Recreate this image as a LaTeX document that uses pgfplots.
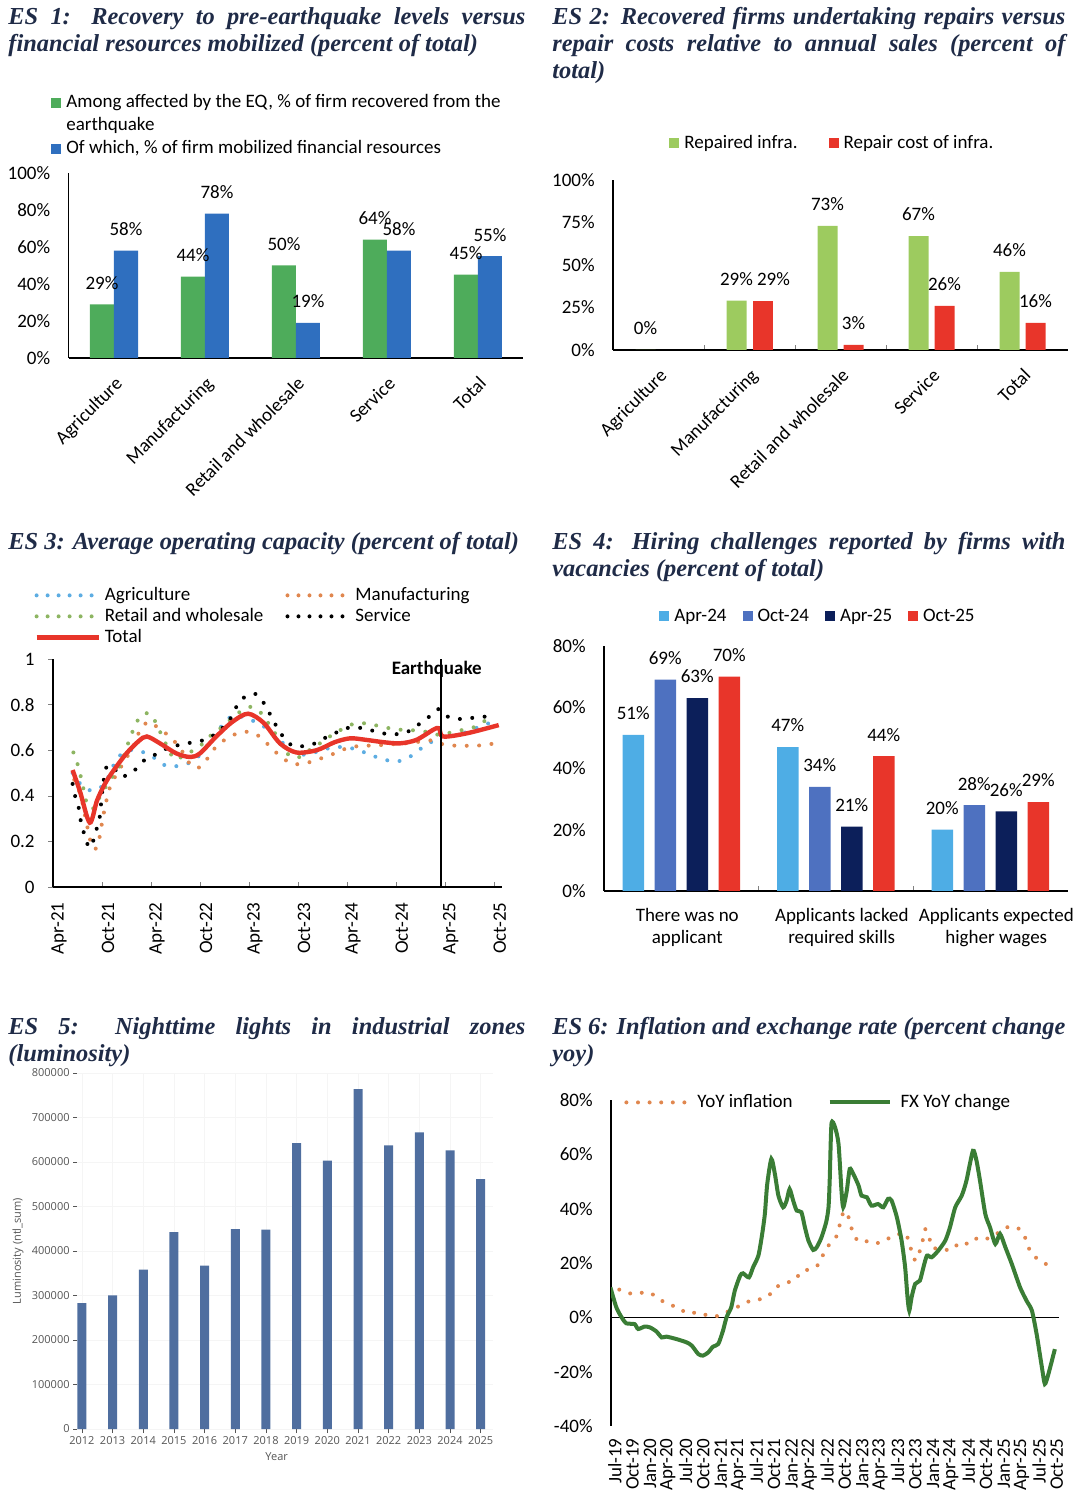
\documentclass[border=0pt]{standalone}
\usepackage{fontspec}
\setmainfont{Carlito}
\newfontfamily\titlefont{Liberation Serif}
\newfontfamily\smallsans{Open Sans}
\usepackage{pgfplots}
\pgfplotsset{compat=1.18}

\definecolor{titlenavy}{HTML}{1F2B47}
\definecolor{grA}{HTML}{4EAC5B}
\definecolor{blA}{HTML}{2F6FBF}
\definecolor{grB}{HTML}{9DCB5F}
\definecolor{rdB}{HTML}{E8352A}
\definecolor{agri}{HTML}{5DADE2}
\definecolor{manu}{HTML}{E0874F}
\definecolor{reta}{HTML}{8DB562}
\definecolor{q1}{HTML}{4EADE5}
\definecolor{q2}{HTML}{4E71C0}
\definecolor{q3}{HTML}{0C1F5A}
\definecolor{lumi}{HTML}{4F6E9F}
\definecolor{fxgreen}{HTML}{3A7D35}
\definecolor{lumitext}{HTML}{555555}

\newcommand\body{\fontsize{9.5}{11}\selectfont}
\newcommand\ttl{\titlefont\bfseries\itshape\fontsize{12.2}{13.5}\selectfont\color{titlenavy}}
\newcommand\lumifont{\smallsans\fontsize{5.5}{6.5}\selectfont\color{lumitext}}

\tikzset{ttlnode/.style={anchor=base west, text width=#1, align=justify, inner sep=0pt, font=\ttl}}

\pgfplotsset{
  panel/.style={scale only axis, anchor=south west, font=\body,
    /pgf/number format/assume math mode=true,
    axis lines=left, axis line style={-, line width=0.6pt},
    tick label style={font=\body},
    legend style={font=\body, draw=none, fill=none, inner sep=0pt,
      nodes={inner sep=0.5pt, text height=7.25pt, text depth=2.25pt}},
    legend cell align=left},
  barpanel/.style={panel, clip=false, ymin=0, major tick length=0pt,
    tick align=inside,
    yticklabel={\pgfmathprintnumber{\tick}\%},
    yticklabel style={inner xsep=0pt, xshift=-9pt},
    legend image code/.code={\fill[##1] (0pt,-2.5pt) rectangle (5pt,2.5pt);},
    legend style={/tikz/every odd column/.append style={column sep=2pt}},
    every node near coord/.append style={font=\body, yshift=4pt}},
  rotlabels/.style={xticklabel style={rotate=45, anchor=north east, inner sep=6pt}},
  pct/.style={nodes near coords={\pgfmathprintnumber{\pgfplotspointmeta}\%},
    every node near coord/.append style={xshift=#1}},
  dotline/.style={line width=2pt, line cap=round, dash pattern=on 0pt off 6.2pt,
    legend image post style={dash pattern=on 0pt off 5.5pt}},
}

\begin{document}
\begin{tikzpicture}
\useasboundingbox (0,0) rectangle (542pt,751pt);

% ---------------- titles
\node[ttlnode=258.5pt] at (4pt,738.5pt)
  {ES 1: Recovery to pre-earthquake levels versus\linebreak financial resources mobilized (percent of total)};
\node[ttlnode=256.5pt] at (276pt,738.5pt)
  {ES 2: Recovered firms undertaking repairs versus\linebreak repair costs relative to annual sales (percent of\linebreak total)};
\node[anchor=base west, inner sep=0pt, font=\ttl] at (4pt,476pt)
  {ES 3: Average operating capacity (percent of total)};
\node[ttlnode=256.5pt] at (276pt,476pt)
  {ES 4: Hiring challenges reported by firms with\linebreak vacancies (percent of total)};
\node[ttlnode=258.5pt] at (4pt,233.5pt)
  {ES 5: Nighttime lights in industrial zones\linebreak (luminosity)};
\node[ttlnode=256.5pt] at (276pt,233.5pt)
  {ES 6: Inflation and exchange rate (percent change\linebreak yoy)};

% ---------------- ES 1
\begin{axis}[barpanel, rotlabels, at={(34.25pt,572pt)}, width=227.5pt, height=92.5pt,
  xmin=-0.5, xmax=4.5, ymax=100, ytick={0,20,...,100},
  xtick={0,...,4}, xticklabels={Agriculture,Manufacturing,Retail and wholesale,Service,Total},
  legend style={at={(axis description cs:-0.0385,1.4405)}, anchor=north west,
    nodes={text height=7.5pt, text depth=3pt}}]
\addlegendimage{fill=grA, draw=none}
\addlegendimage{empty legend}
\addlegendimage{fill=blA, draw=none}
\addplot[ybar, bar width=12pt, bar shift=-6pt, fill=grA, draw=none, pct=-6pt, forget plot]
  coordinates {(0,29) (1,44) (2,50) (3,64) (4,45)};
\addplot[ybar, bar width=12pt, bar shift=6pt, fill=blA, draw=none, pct=6pt, forget plot]
  coordinates {(0,58) (1,78) (2,19) (3,58) (4,55)};
\legend{{Among affected by the EQ, \% of firm recovered from the},earthquake,{Of which, \% of firm mobilized financial resources}}
\end{axis}

% ---------------- ES 2
\begin{axis}[barpanel, rotlabels, at={(306.5pt,576pt)}, width=227.5pt, height=85pt,
  xmin=-0.5, xmax=4.5, ymax=100, ytick={0,25,...,100},
  xtick={0,...,4}, xticklabels={Agriculture,Manufacturing,Retail and wholesale,Service,Total},
  minor xtick={0.5,1.5,2.5,3.5}, minor tick length=2.5pt,
  legend columns=2,
  legend style={at={(axis description cs:0.1231,1.279)}, anchor=north west,
    /tikz/every even column/.append style={column sep=15pt}}]
\addlegendimage{fill=grB, draw=none}
\addlegendimage{fill=rdB, draw=none}
\addplot[ybar, bar width=10pt, bar shift=-6.5pt, fill=grB, draw=none, pct=-6.5pt, forget plot]
  coordinates {(0,0) (1,29) (2,73) (3,67) (4,46)};
\addplot[ybar, bar width=10pt, bar shift=6.5pt, fill=rdB, draw=none, pct=12pt, forget plot]
  coordinates {(1,29)};
\addplot[ybar, bar width=10pt, bar shift=6.5pt, fill=rdB, draw=none, pct=6.5pt, forget plot]
  coordinates {(2,3) (3,26) (4,16)};
\legend{Repaired infra.,Repair cost of infra.}
\end{axis}

% ---------------- ES 3
\begin{axis}[panel, at={(26.5pt,307.5pt)}, width=224.5pt, height=114pt,
  xmin=0, xmax=55, ymin=0, ymax=1, ytick={0,0.2,...,1},
  xtick={0,6,...,54},
  xticklabels={Apr-21,Oct-21,Apr-22,Oct-22,Apr-23,Oct-23,Apr-24,Oct-24,Apr-25,Oct-25},
  xticklabel style={rotate=90, anchor=east, inner xsep=7.5pt, yshift=-3pt},
  tick align=inside, major tick length=2.5pt,
  ytick style={xshift=-2.5pt},
  yticklabel style={inner xsep=0pt, xshift=-9pt},
  legend columns=2,
  legend image code/.code={\draw[#1] (0pt,0pt) -- (31pt,0pt);},
  legend style={at={(axis description cs:-0.0423,1.3268)}, anchor=north west,
    /tikz/every odd column/.append style={column sep=1.5pt},
    /tikz/every even column/.append style={column sep=10.5pt}}]
\addplot[agri, dotline, smooth] coordinates {
(2.4,0.50) (3.4,0.45) (4.4,0.425) (5.6,0.43) (6.6,0.47) (7.5,0.54) (8.3,0.58) (9.4,0.60)
(10.4,0.60) (11.7,0.58) (12.7,0.56) (13.9,0.53) (15.1,0.53) (16.4,0.54) (17.6,0.565)
(18.8,0.615) (20.2,0.685) (21.5,0.74) (22.7,0.75) (23.9,0.735) (25.1,0.72) (27.0,0.674)
(28.2,0.63) (29.4,0.594) (30.6,0.58) (32.0,0.59) (33.4,0.605) (34.7,0.615) (35.9,0.61)
(37.2,0.605) (38.4,0.586) (39.6,0.57) (40.8,0.557) (41.9,0.55) (43.2,0.56) (44.3,0.586)
(45.3,0.613) (46.6,0.642) (47.4,0.667) (48.6,0.66) (50.7,0.68) (52.7,0.71) (54.5,0.73)};
\addplot[manu, dotline, smooth] coordinates {
(2.6,0.47) (3.4,0.40) (4.0,0.30) (4.6,0.20) (5.1,0.165) (5.6,0.20) (6.2,0.32) (7.0,0.44)
(8.3,0.525) (9.8,0.615) (10.7,0.69) (11.7,0.725) (12.7,0.703) (13.7,0.677) (14.7,0.645)
(15.6,0.608) (17.0,0.53) (18.2,0.53) (19.6,0.60) (20.7,0.637) (21.7,0.66) (22.9,0.677)
(24.1,0.68) (25.3,0.66) (26.2,0.63) (27.2,0.594) (28.2,0.565) (29.2,0.54) (30.4,0.54)
(31.7,0.55) (32.9,0.565) (34.1,0.58) (35.3,0.60) (36.6,0.613) (37.8,0.62) (39.0,0.62)
(40.4,0.623) (42.3,0.628) (44.1,0.633) (45.3,0.64) (46.6,0.642) (48.0,0.623) (49.5,0.62)
(52.0,0.62) (54.2,0.63)};
\addplot[reta, dotline, smooth] coordinates {
(2.5,0.59) (3.0,0.54) (3.5,0.47) (4.2,0.36) (5.0,0.345) (5.8,0.40) (7.0,0.47) (8.3,0.54)
(9.2,0.63) (10.2,0.72) (11.1,0.76) (12.1,0.755) (12.7,0.71) (13.3,0.667) (14.2,0.60)
(14.9,0.56) (16.0,0.575) (17.2,0.60) (18.4,0.63) (19.6,0.674) (20.9,0.706) (21.9,0.74)
(23.1,0.773) (24.2,0.79) (25.3,0.77) (26.2,0.727) (27.2,0.674) (28.2,0.608) (29.2,0.57)
(30.2,0.57) (31.4,0.60) (32.7,0.63) (33.9,0.66) (35.6,0.696) (36.8,0.715) (38.2,0.718)
(39.4,0.71) (40.7,0.70) (42.1,0.69) (43.1,0.69) (44.5,0.686) (45.8,0.68) (47.4,0.667)
(49.0,0.68) (51.5,0.70) (52.7,0.725) (53.9,0.744)};
\addplot[black, dotline, smooth] coordinates {
(2.4,0.452) (2.7,0.40) (3.1,0.357) (3.3,0.31) (3.6,0.26) (4.4,0.174) (4.9,0.20) (5.3,0.25)
(5.7,0.30) (6.1,0.44) (6.6,0.53) (7.5,0.52) (8.2,0.487) (9.4,0.494) (10.5,0.53) (11.3,0.56)
(12.5,0.58) (13.7,0.604) (14.8,0.618) (16.1,0.627) (17.4,0.637) (18.6,0.645) (20.0,0.674)
(21.5,0.725) (22.7,0.805) (23.7,0.838) (24.9,0.846) (25.8,0.808) (26.4,0.77) (27.0,0.73)
(27.6,0.69) (28.4,0.65) (29.4,0.618) (30.7,0.618) (31.9,0.627) (33.1,0.65) (34.3,0.67)
(35.6,0.693) (36.7,0.70) (38.0,0.696) (39.1,0.686) (40.4,0.674) (41.7,0.67) (42.9,0.674)
(44.1,0.693) (45.1,0.722) (46.2,0.75) (47.2,0.78) (48.0,0.753) (49.2,0.738) (50.5,0.738)
(51.7,0.743) (52.9,0.747) (54.2,0.75)};
\addplot[rdB, line width=2.2pt, smooth] coordinates {
(2.4,0.513) (3.3,0.42) (4.5,0.282) (5.4,0.38) (6.4,0.455) (7.4,0.51) (9.0,0.586)
(10.5,0.64) (11.5,0.66) (13.1,0.63) (15.1,0.586) (16.8,0.57) (18.0,0.586) (20.0,0.66)
(22.0,0.725) (23.9,0.76) (25.8,0.72) (27.8,0.63) (29.8,0.59) (32.3,0.60) (34.5,0.635)
(36.4,0.652) (38.4,0.645) (40.5,0.635) (42.5,0.63) (44.5,0.645) (46.6,0.69) (47.3,0.696)
(47.8,0.66) (50.7,0.674) (54.6,0.71)};
\legend{Agriculture,Manufacturing,Retail and wholesale,Service,Total}
\draw[black, line width=0.8pt] (axis cs:47.5,0) -- (axis cs:47.5,1);
\node[font=\body\bfseries, anchor=north, inner sep=1pt, xshift=-2pt] at (axis cs:47.5,1) {Earthquake};
\end{axis}

% ---------------- ES 4
\begin{axis}[barpanel, at={(302pt,305.5pt)}, width=231.75pt, height=122.5pt,
  xmin=-0.5, xmax=2.5, ymax=80, ytick={0,20,...,80},
  xtick={0,1,2},
  xticklabels={{There was no\\applicant},{Applicants lacked\\required skills},{Applicants expected\\higher wages}},
  xticklabel style={align=center, anchor=north, yshift=-5pt, xshift=3pt},
  minor xtick={0.5,1.5}, minor tick length=2.5pt,
  legend columns=4,
  legend style={at={(axis description cs:0.1187,1.1653)}, anchor=north west,
    /tikz/every even column/.append style={column sep=7.5pt}}]
\addlegendimage{fill=q1, draw=none}
\addlegendimage{fill=q2, draw=none}
\addlegendimage{fill=q3, draw=none}
\addlegendimage{fill=rdB, draw=none}
\addplot[ybar, bar width=10.75pt, bar shift=-24pt, fill=q1, draw=none, pct=-24pt, forget plot]
  coordinates {(0,51) (1,47) (2,20)};
\addplot[ybar, bar width=10.75pt, bar shift=-8pt, fill=q2, draw=none, pct=-8pt, forget plot]
  coordinates {(0,69) (1,34) (2,28)};
\addplot[ybar, bar width=10.75pt, bar shift=8pt, fill=q3, draw=none, pct=8pt, forget plot]
  coordinates {(0,63) (1,21) (2,26)};
\addplot[ybar, bar width=10.75pt, bar shift=24pt, fill=rdB, draw=none, pct=24pt, forget plot]
  coordinates {(0,70) (1,44) (2,29)};
\legend{Apr-24,Oct-24,Apr-25,Oct-25}
\end{axis}

% ---------------- ES 5
\begin{axis}[scale only axis, anchor=south west, at={(38.5pt,36.5pt)}, width=208pt, height=178pt,
  xmin=2011.84, xmax=2025.4, ymin=0, ymax=800000,
  /pgf/number format/assume math mode=true, scaled ticks=false,
  axis line style={draw=none}, tick pos=left, tick align=outside,
  major tick length=2pt, tick style={lumitext, line width=0.4pt},
  minor x tick num=1, minor tick length=0.8pt,
  grid=major, grid style={black!4},
  xtick={2012,...,2025}, /pgf/number format/1000 sep={},
  ytick={0,100000,...,800000},
  yticklabels={0,100000,200000,300000,400000,500000,600000,700000,800000},
  tick label style={font=\lumifont}, yticklabel style={inner xsep=1.5pt},
  xticklabel style={inner ysep=1.5pt},
  xlabel={Year}, ylabel={Luminosity (ntl\_sum)},
  label style={font=\lumifont},
  xlabel style={at={(axis description cs:0.48,-0.0787)}, anchor=center},
  ylabel style={at={(axis description cs:-0.1418,0.5)}, anchor=center}]
\addplot[ybar, bar width=4.5pt, fill=lumi, draw=none] coordinates {
(2012,283000) (2013,300400) (2014,358000) (2015,442700) (2016,367000) (2017,449400)
(2018,448000) (2019,642700) (2020,603000) (2021,764000) (2022,637400) (2023,666700)
(2024,626200) (2025,561800)};
\end{axis}

% ---------------- ES 6
\begin{axis}[panel, at={(305.5pt,38pt)}, width=224pt, height=163pt,
  xmin=-0.3, xmax=75.7, ymin=-40, ymax=80, ytick={-40,-20,...,80},
  yticklabel={\pgfmathprintnumber{\tick}\%},
  yticklabel style={inner xsep=0pt, xshift=-9pt},
  major tick length=0pt, x axis line style={draw=none},
  extra y ticks={0}, extra y tick labels={},
  extra y tick style={grid=major, major grid style={black, line width=0.6pt}},
  xtick={0,3,...,75},
  xticklabels={Jul-19,Oct-19,Jan-20,Apr-20,Jul-20,Oct-20,Jan-21,Apr-21,Jul-21,Oct-21,Jan-22,Apr-22,Jul-22,Oct-22,Jan-23,Apr-23,Jul-23,Oct-23,Jan-24,Apr-24,Jul-24,Oct-24,Jan-25,Apr-25,Jul-25,Oct-25},
  xticklabel style={rotate=90, anchor=east, inner xsep=6pt, yshift=-1pt},
  legend columns=2,
  legend image code/.code={\draw[#1] (0pt,0pt) -- (30pt,0pt);},
  legend style={at={(axis description cs:0.029,1.026)}, anchor=north west,
    /tikz/every odd column/.append style={column sep=4pt},
    /tikz/every even column/.append style={column sep=17pt}}]
\addplot[manu, line width=2pt, line cap=round, dash pattern=on 0pt off 5.8pt, smooth] coordinates {
(1.1,10.2) (2.9,8.8) (4.6,9.0) (6.3,9.0) (7.9,6.7) (9.5,4.7) (11.1,3.7) (12.5,1.6) (14.3,1.7)
(16.2,0.7) (17.9,0.5) (19.6,2.2) (21.3,4.0) (23.0,5.8) (24.7,6.5) (26.4,7.9) (27.5,10.8)
(29.2,12.6) (30.9,13.7) (32.0,16.9) (33.7,17.8) (35.1,19.9) (35.8,23.7) (36.8,27.0)
(38.0,30.0) (38.5,34.1) (39.0,38.0) (39.7,39.0) (40.2,35.0) (40.8,31.0) (41.7,27.9)
(43.2,28.0) (44.7,27.2) (46.2,28.7) (47.9,29.7) (49.3,31.3) (50.3,28.0) (50.7,23.9)
(51.4,20.9) (52.1,24.5) (52.6,28.5) (53.0,32.5) (53.7,29.4) (54.1,25.8) (55.8,25.2)
(57.5,24.8) (58.9,27.6) (60.6,27.0) (62.0,29.4) (63.7,29.0) (65.1,30.7) (66.8,33.1)
(68.5,33.1) (69.7,30.7) (70.3,27.0) (71.1,23.3) (72.5,20.9) (74.0,19.0)};
\addplot[fxgreen, line width=2pt, smooth, tension=0.4] coordinates {
(-0.4,11) (0.6,3.7) (1.5,0) (2.3,-2.2) (3.7,-2.5) (4.3,-4.3) (5.4,-3.4) (6.3,-3.7) (7.4,-5.2)
(8.3,-7.4) (9.1,-7.1) (10.8,-8) (12.5,-9.2) (13.4,-10.4) (14.5,-13.5) (15.3,-14.1)
(16.2,-12.9) (17.0,-10.8) (17.9,-9.8) (18.7,-4.9) (19.3,0) (20.1,3.7) (20.7,9.8)
(21.6,15.3) (22.1,16.2) (23.1,14.7) (23.8,18.4) (24.7,22.7) (25.3,30) (25.8,38) (26.2,49)
(26.9,58.3) (27.5,52.8) (28.1,44.8) (28.9,40.5) (29.5,43) (30.0,47.2) (30.6,43) (31.2,39.3)
(32.0,38.7) (32.6,33.1) (33.2,28.2) (34.0,24.8) (34.6,25.8) (35.4,29.4) (36.2,35)
(36.6,40.5) (36.8,50.3) (37.1,71.2) (37.7,70) (38.3,63.8) (38.8,46.6) (39.1,40.5)
(39.7,46.6) (40.2,54.6) (40.8,52.8) (41.7,48.5) (42.2,44.8) (43.1,44.2) (43.9,41.1)
(45.0,41.7) (45.9,40.5) (46.7,43.6) (47.3,43) (48.2,36.8) (49.0,28.2) (49.6,18.4)
(50.0,7.4) (50.3,2.5) (50.7,7.4) (51.3,12.3) (52.1,13.5) (52.7,18.4) (53.3,22.7)
(54.1,22.1) (55.2,24.5) (56.4,28.2) (57.2,33.1) (58.1,40.5) (59.2,44.8) (60.0,50.3)
(61.1,61.3) (61.7,57.7) (62.3,50.3) (63.2,38) (64.0,33.1) (64.9,27) (65.7,30.7) (66.6,25.8)
(67.7,19.6) (69.1,11) (70.2,6.1) (71.1,2.5) (71.9,-6.1) (72.8,-18.4) (73.3,-24.5)
(73.9,-20.9) (75.0,-11.7)};
\legend{YoY inflation,FX YoY change}
\end{axis}
\end{tikzpicture}
\end{document}
